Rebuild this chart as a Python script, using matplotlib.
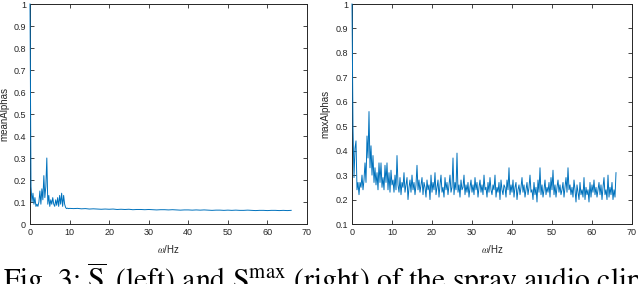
import matplotlib.pyplot as plt
import numpy as np

# frequency axis (Hz), 0.25 Hz sampling
freq_dense = np.arange(0, 66.01, 0.25)

# meanAlphas: dense part 0-9.75 Hz, then 1 Hz steps 10-66 Hz
mean_low = [
    1.00, 0.17, 0.10, 0.14,
    0.09, 0.12, 0.08, 0.09,
    0.08, 0.10, 0.15, 0.09,
    0.16, 0.11, 0.22, 0.12,
    0.17, 0.30, 0.09, 0.13,
    0.08, 0.11, 0.09, 0.12,
    0.09, 0.08, 0.11, 0.085,
    0.12, 0.08, 0.13, 0.09,
    0.14, 0.08, 0.13, 0.09,
    0.075, 0.07, 0.072, 0.07,
]
mean_high = [
    0.071, 0.070, 0.071, 0.069, 0.070, 0.068, 0.069, 0.068, 0.067, 0.068,
    0.067, 0.068, 0.066, 0.067, 0.066, 0.067, 0.065, 0.066, 0.066, 0.065,
    0.066, 0.065, 0.064, 0.065, 0.065, 0.064, 0.065, 0.064, 0.063, 0.064,
    0.064, 0.063, 0.064, 0.063, 0.064, 0.063, 0.062, 0.063, 0.063, 0.062,
    0.063, 0.062, 0.063, 0.062, 0.062, 0.063, 0.062, 0.061, 0.062, 0.062,
    0.061, 0.062, 0.062, 0.061, 0.062, 0.061, 0.062,
]
mean_freq = list(freq_dense[:40]) + list(range(10, 67))
mean_alphas = mean_low + mean_high

max_alphas = [
    1.00, 0.49, 0.29, 0.41,
    0.44, 0.24, 0.27, 0.22,
    0.27, 0.25, 0.30, 0.24,
    0.28, 0.35, 0.27, 0.46,
    0.37, 0.56, 0.33, 0.42,
    0.30, 0.38, 0.27, 0.33,
    0.26, 0.31, 0.24, 0.35,
    0.27, 0.35, 0.25, 0.29,
    0.24, 0.34, 0.27, 0.35,
    0.24, 0.31, 0.23, 0.32,
    0.26, 0.28, 0.23, 0.30,
    0.24, 0.38, 0.26, 0.23,
    0.29, 0.22, 0.27, 0.25,
    0.31, 0.23, 0.26, 0.29,
    0.20, 0.25, 0.28, 0.23,
    0.30, 0.24, 0.27, 0.22,
    0.26, 0.34, 0.24, 0.28,
    0.23, 0.26, 0.29, 0.22,
    0.27, 0.25, 0.21, 0.28,
    0.24, 0.26, 0.20, 0.30,
    0.23, 0.27, 0.24, 0.31,
    0.22, 0.25, 0.28, 0.21,
    0.26, 0.30, 0.23, 0.25,
    0.21, 0.29, 0.24, 0.27,
    0.22, 0.26, 0.30, 0.23,
    0.25, 0.37, 0.22, 0.27,
    0.24, 0.39, 0.23, 0.26,
    0.21, 0.28, 0.24, 0.25,
    0.30, 0.22, 0.26, 0.23,
    0.27, 0.21, 0.25, 0.28,
    0.23, 0.26, 0.22, 0.29,
    0.24, 0.27, 0.21, 0.25,
    0.28, 0.23, 0.26, 0.22,
    0.30, 0.24, 0.25, 0.21,
    0.27, 0.23, 0.29, 0.24,
    0.22, 0.26, 0.24, 0.30,
    0.21, 0.25, 0.23, 0.27,
    0.20, 0.28, 0.24, 0.22,
    0.26, 0.25, 0.21, 0.28,
    0.24, 0.33, 0.22, 0.26,
    0.23, 0.28, 0.21, 0.25,
    0.27, 0.20, 0.24, 0.26,
    0.22, 0.25, 0.29, 0.23,
    0.26, 0.21, 0.24, 0.27,
    0.22, 0.25, 0.30, 0.23,
    0.24, 0.20, 0.27, 0.22,
    0.25, 0.19, 0.28, 0.23,
    0.33, 0.22, 0.26, 0.21,
    0.24, 0.28, 0.22, 0.25,
    0.23, 0.27, 0.21, 0.29,
    0.24, 0.32, 0.22, 0.26,
    0.21, 0.25, 0.28, 0.23,
    0.26, 0.22, 0.24, 0.27,
    0.21, 0.25, 0.29, 0.23,
    0.33, 0.24, 0.26, 0.22,
    0.25, 0.21, 0.28, 0.24,
    0.19, 0.26, 0.23, 0.20,
    0.27, 0.22, 0.24, 0.21,
    0.29, 0.20, 0.25, 0.22,
    0.24, 0.19, 0.27, 0.21,
    0.26, 0.23, 0.28, 0.22,
    0.25, 0.21, 0.24, 0.27,
    0.22, 0.26, 0.20, 0.25,
    0.29, 0.22, 0.24, 0.20,
    0.30, 0.21, 0.25, 0.22,
    0.27, 0.20, 0.24, 0.21,
    0.31,
]

x_ticks = [0, 10, 20, 30, 40, 50, 60, 70]
left_yticks = [0, 0.1, 0.2, 0.3, 0.4, 0.5, 0.6, 0.7, 0.8, 0.9, 1]
right_yticks = [0.1, 0.2, 0.3, 0.4, 0.5, 0.6, 0.7, 0.8, 0.9, 1]

plt.rcParams['font.family'] = ['Liberation Sans', 'DejaVu Sans']
plt.rcParams['mathtext.fontset'] = 'stix'
line_color = '#0072BD'
text_color = '#262626'

fig = plt.figure(figsize=(6.38, 2.84), dpi=100)
ax1 = fig.add_axes([30 / 638, 60 / 284, 277 / 638, 220 / 284])
ax2 = fig.add_axes([352 / 638, 60 / 284, 280 / 638, 220 / 284])


def style_axis(ax, yticks, ylim, ylabel):
    ax.set_xlim(0, 70)
    ax.set_ylim(*ylim)
    ax.set_xticks(x_ticks)
    ax.set_yticks(yticks)
    ax.set_yticklabels([('%g' % t) for t in yticks])
    ax.tick_params(direction='in', length=3, width=0.6, labelsize=6.5,
                   colors=text_color, top=True, right=True, pad=3)
    for s in ax.spines.values():
        s.set_linewidth(0.7)
        s.set_color(text_color)
    ax.set_xlabel(r'$\omega$/Hz', fontsize=7, color=text_color, labelpad=4)
    ax.set_ylabel(ylabel, fontsize=7, color=text_color)
    ax.yaxis.set_label_coords(-0.076, 0.5)


ax1.plot(mean_freq, mean_alphas, color=line_color, lw=0.7, zorder=3, clip_on=False)
style_axis(ax1, left_yticks, (0, 1), 'meanAlphas')

ax2.plot(freq_dense, max_alphas, color=line_color, lw=0.7, zorder=3, clip_on=False)
style_axis(ax2, right_yticks, (0.1, 1), 'maxAlphas')

fig.text(0.004, -0.02, r'Fig. 3: $\overline{\mathrm{S}}\,$ (left) and $\mathrm{S}^{\max}$ (right) of the spray audio clip',
         fontsize=21.3, family='STIXGeneral', ha='left', va='baseline', color='black')

fig.savefig('out.png', dpi=100)
